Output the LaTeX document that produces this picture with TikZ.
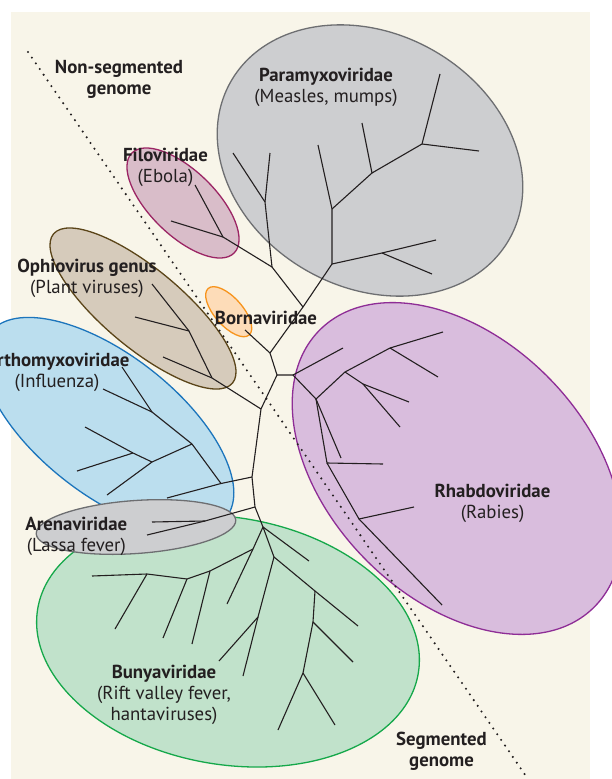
\documentclass[tikz,border=0pt]{standalone}
\usepackage{fontspec}
\setmainfont{PT Sans}
\usepackage{tikz}
\usetikzlibrary{shapes.geometric}
\definecolor{PaperCream}{HTML}{F8F5E9}
\definecolor{ParaGray}{HTML}{CDCED0}
\definecolor{ParaEdge}{HTML}{6D6E71}
\definecolor{FiloPink}{HTML}{D9BDC9}
\definecolor{FiloEdge}{HTML}{9B2564}
\definecolor{OphioTan}{HTML}{D6CBBB}
\definecolor{OphioEdge}{HTML}{5B4519}
\definecolor{BornaPeach}{HTML}{FDDCB8}
\definecolor{BornaEdge}{HTML}{F7941D}
\definecolor{OrthoBlue}{HTML}{BBDEEE}
\definecolor{OrthoEdge}{HTML}{1C75BC}
\definecolor{BunyaGreen}{HTML}{C1E2CB}
\definecolor{BunyaEdge}{HTML}{15A84A}
\definecolor{RhabdoLilac}{HTML}{D9BDDD}
\definecolor{RhabdoEdge}{HTML}{8E2D96}
\definecolor{LabelInk}{HTML}{231F20}
\tikzset{
  blob/.style={ellipse, inner sep=0pt, line width=1.3pt},
  grayblob/.style={blob, draw=ParaEdge, fill=ParaGray},
  pinkblob/.style={blob, draw=FiloEdge, fill=FiloPink},
  tanblob/.style={blob, draw=OphioEdge, fill=OphioTan},
  peachblob/.style={blob, draw=BornaEdge, fill=BornaPeach},
  blueblob/.style={blob, draw=OrthoEdge, fill=OrthoBlue},
  greenblob/.style={blob, draw=BunyaEdge, fill=BunyaGreen},
  lilacblob/.style={blob, draw=RhabdoEdge, fill=RhabdoLilac},
  branch/.style={line width=1.1pt, draw=LabelInk},
  genomesplit/.style={line width=2.3pt, line cap=round, dash pattern=on 0pt off 6.9pt, draw=LabelInk},
  famlabel/.style={align=center, text=LabelInk, inner sep=0pt, font=\fontsize{18.8}{21}\selectfont}
}

\begin{document}
\begin{tikzpicture}[x=1pt, y=-1pt]
\useasboundingbox (0,0) rectangle (612,779);
\fill[PaperCream] (11,12) rectangle (590,779);

% families
\node[grayblob, minimum width=320pt, minimum height=254pt, rotate=-29.3] (paramyxo) at (370,160.5) {};
\node[pinkblob, minimum width=143pt, minimum height=65pt, rotate=-44.2] (filo) at (183,203) {};
\node[tanblob, minimum width=233pt, minimum height=79pt, rotate=-39.8] (ophio) at (143,308.5) {};
\node[peachblob, minimum width=62pt, minimum height=28pt, rotate=-48.6] (borna) at (228.7,311.7) {};
\node[blueblob, minimum width=300pt, minimum height=140pt, rotate=-38] (ortho) at (108,425) {};
\node[greenblob, minimum width=386pt, minimum height=247pt, rotate=-9.7] (bunya) at (228,641) {};
\node[grayblob, minimum width=200pt, minimum height=53pt, rotate=4] (arena) at (136,527) {};
\node[lilacblob, minimum width=390pt, minimum height=258pt, rotate=-45.5] (rhabdo) at (457,468.5) {};

% tree junctions and tips
\coordinate (n1) at (277,375);
\coordinate (n2) at (270,353);
\coordinate (n3) at (261,409);
\coordinate (n4) at (303,307);
\coordinate (n5) at (272,267);
\coordinate (n6) at (252,477);
\coordinate (n7) at (255,507);
\coordinate (bornatip) at (245,330);
% Filoviridae
\coordinate (f0) at (223,237);
\coordinate (ftip1) at (195,185);
\coordinate (ftip2) at (171,221);
% Paramyxoviridae
\coordinate (pm0) at (265,202);
\coordinate (pmtip1) at (233,153);
\coordinate (pmtip2) at (270,153);
\coordinate (p0) at (332,264);
\coordinate (pa) at (382,253);
\coordinate (patip1) at (436,240);
\coordinate (patip2) at (432,274);
\coordinate (pb) at (332,209);
\coordinate (pbtip) at (318,145);
\coordinate (pc) at (372,173);
\coordinate (pctip) at (362,123);
\coordinate (pd) at (422,144);
\coordinate (pdtip1) at (440,74);
\coordinate (pdtip2) at (479,151);
% Ophiovirus
\coordinate (o0) at (212,378);
\coordinate (otip) at (163,357);
\coordinate (oa) at (189,331);
\coordinate (oatip1) at (152,284);
\coordinate (oatip2) at (135,317);
% Orthomyxoviridae
\coordinate (m0) at (221,483.5);
\coordinate (mtip) at (167,498);
\coordinate (mx) at (192,444);
\coordinate (my) at (152,412);
\coordinate (mytip1) at (122,367);
\coordinate (mytip2) at (103,389);
\coordinate (mz) at (152,462);
\coordinate (mztip) at (107,495);
\coordinate (mw) at (133,453);
\coordinate (mwtip1) at (85,427);
\coordinate (mwtip2) at (77,471);
% Arenaviridae
\coordinate (ar0) at (205,521);
\coordinate (artip1) at (152,522);
\coordinate (artip2) at (147,535);
% Bunyaviridae
\coordinate (bu) at (263,527);
\coordinate (butip) at (309,561);
\coordinate (bv) at (274,557);
\coordinate (bw) at (253,549);
\coordinate (bwtip) at (227,604);
\coordinate (br) at (210,571);
\coordinate (brtip) at (192,644);
\coordinate (bt) at (187,579);
\coordinate (bttip) at (163,638);
\coordinate (bs) at (147,574);
\coordinate (bstip1) at (92,576);
\coordinate (bstip2) at (115,629);
\coordinate (bx) at (315,591);
\coordinate (bxtip) at (358,626);
\coordinate (bz) at (313,622);
\coordinate (bztip) at (353,662);
\coordinate (bq) at (303,673);
\coordinate (bqtip1) at (278,730);
\coordinate (bqtip2) at (335,725);
\coordinate (by) at (258,617);
\coordinate (bytip1) at (219,661);
\coordinate (bytip2) at (243,676);
% Rhabdoviridae
\coordinate (r0) at (293,375);
\coordinate (r0tip) at (343,348);
\coordinate (ra) at (316,399);
\coordinate (ratip) at (341,458);
\coordinate (rb) at (345,372);
\coordinate (rd) at (390,348);
\coordinate (rdtip1) at (443,332);
\coordinate (rdtip2) at (438,377);
\coordinate (re) at (363,384);
\coordinate (retip1) at (409,402);
\coordinate (retip2) at (400,427);
\coordinate (rc) at (327,463);
\coordinate (rctip) at (383,464);
\coordinate (rf) at (359,519);
\coordinate (rftip1) at (414,507);
\coordinate (rftip2) at (442,605);

% backbone
\draw[branch] (r0) -- (n1) -- (n2) -- (n4) -- (p0);
\draw[branch] (n2) -- (bornatip);
\draw[branch] (n4) -- (n5) -- (f0);
\draw[branch] (n1) -- (n3) -- (n6) -- (n7) -- (bu);
% Filoviridae
\draw[branch] (f0) -- (ftip1);
\draw[branch] (f0) -- (ftip2);
% Paramyxoviridae
\draw[branch] (n5) -- (pm0) -- (pmtip1);
\draw[branch] (pm0) -- (pmtip2);
\draw[branch] (p0) -- (pa) -- (patip1);
\draw[branch] (pa) -- (patip2);
\draw[branch] (p0) -- (pb) -- (pbtip);
\draw[branch] (pb) -- (pc) -- (pctip);
\draw[branch] (pc) -- (pd) -- (pdtip1);
\draw[branch] (pd) -- (pdtip2);
% Ophiovirus
\draw[branch] (n3) -- (o0) -- (otip);
\draw[branch] (o0) -- (oa) -- (oatip1);
\draw[branch] (oa) -- (oatip2);
% Orthomyxoviridae
\draw[branch] (n6) -- (m0) -- (mtip);
\draw[branch] (m0) -- (mx) -- (my) -- (mytip1);
\draw[branch] (my) -- (mytip2);
\draw[branch] (mx) -- (mz) -- (mztip);
\draw[branch] (mz) -- (mw) -- (mwtip1);
\draw[branch] (mw) -- (mwtip2);
% Arenaviridae
\draw[branch] (n7) -- (ar0) -- (artip1);
\draw[branch] (ar0) -- (artip2);
% Bunyaviridae
\draw[branch] (bu) -- (butip);
\draw[branch] (bu) -- (bw) -- (bwtip);
\draw[branch] (bw) -- (br) -- (brtip);
\draw[branch] (br) -- (bt) -- (bttip);
\draw[branch] (bt) -- (bs) -- (bstip1);
\draw[branch] (bs) -- (bstip2);
\draw[branch] (bu) -- (bv) -- (bx) -- (bxtip);
\draw[branch] (bx) -- (bz) -- (bztip);
\draw[branch] (bz) -- (bq) -- (bqtip1);
\draw[branch] (bq) -- (bqtip2);
\draw[branch] (bv) -- (by) -- (bytip2);
\draw[branch] (by) -- (bytip1);
% Rhabdoviridae
\draw[branch] (r0) -- (r0tip);
\draw[branch] (r0) -- (ra) -- (rb) -- (rd) -- (rdtip1);
\draw[branch] (rd) -- (rdtip2);
\draw[branch] (rb) -- (re) -- (retip1);
\draw[branch] (re) -- (retip2);
\draw[branch] (ra) -- (ratip);
\draw[branch] (ra) -- (rc) -- (rctip);
\draw[branch] (rc) -- (rf) -- (rftip1);
\draw[branch] (rf) -- (rftip2);

% genome divide
\coordinate (splittop) at (28,52);
\coordinate (splitbottom) at (528,779);
\draw[genomesplit] (splittop) -- (splitbottom);

% labels
\node[famlabel, font=\fontsize{18.8}{21}\selectfont\bfseries] (nonseglabel) at (119,79) {Non-segmented\\genome};
\node[famlabel, font=\fontsize{18.8}{21}\selectfont\bfseries] (seglabel) at (441.5,751.5) {Segmented\\genome};
\node[famlabel] (paralabel) at (326,87) {\textbf{Paramyxoviridae}\\(Measles, mumps)};
\node[famlabel] (filolabel) at (165.5,167) {\textbf{Filoviridae}\\(Ebola)};
\node[famlabel] (ophiolabel) at (87,278) {\textbf{Ophiovirus genus}\\(Plant viruses)};
\node[famlabel] (bornalabel) at (266,318) {\textbf{Bornaviridae}};
\node[famlabel] (ortholabel) at (57,372) {\textbf{Orthomyxoviridae}\\(Influenza)};
\node[famlabel] (rhabdolabel) at (492.5,503) {\textbf{Rhabdoviridae}\\(Rabies)};
\node[famlabel] (arenalabel) at (76.3,536) {\textbf{Arenaviridae}\\(Lassa fever)};
\node[famlabel] (bunyalabel) at (164,695) {\textbf{Bunyaviridae}\\(Rift valley fever,\\hantaviruses)};
\end{tikzpicture}
\end{document}
